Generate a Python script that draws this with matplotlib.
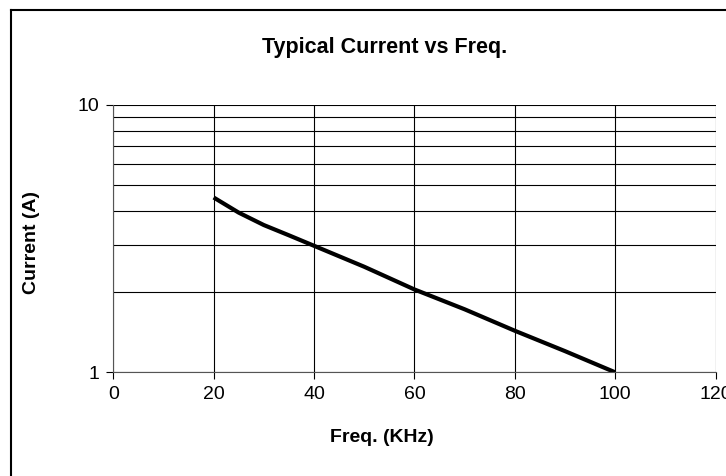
import matplotlib
matplotlib.use("Agg")
import matplotlib.pyplot as plt
from matplotlib.lines import Line2D
from matplotlib.ticker import FixedLocator, NullFormatter

# values
freq = [20, 25, 30, 35, 40, 50, 60, 70, 80, 90, 100]
current = [4.5, 3.95, 3.55, 3.25, 2.97, 2.48, 2.04, 1.72, 1.43, 1.2, 1.0]
xticks = [0, 20, 40, 60, 80, 100, 120]
yminor = [2, 3, 4, 5, 6, 7, 8, 9]

plt.rcParams['font.family'] = ['Liberation Sans', 'DejaVu Sans']

W, H = 726, 476
fig = plt.figure(figsize=(W/100, H/100), dpi=100)
ax = fig.add_axes([113.3/W, 1-372.3/H, (715.5-113.3)/W, (372.3-104.7)/H])

ax.plot(freq, current, color='black', lw=3.0, solid_capstyle='butt')
ax.set_yscale('log')
ax.set_xlim(0, 120)
ax.set_ylim(1, 10)
ax.set_xticks(xticks)
ax.set_yticks([1, 10])
ax.set_yticklabels(['1', '10'])
ax.yaxis.set_minor_locator(FixedLocator(yminor))
ax.yaxis.set_minor_formatter(NullFormatter())
ax.tick_params(axis='y', which='minor', length=0)
ax.tick_params(which='major', length=5, width=0.8, labelsize=14, pad=5)
ax.grid(True, which='both', color='black', lw=0.8)
for s in ['top', 'right']:
    ax.spines[s].set_visible(False)
ax.spines['left'].set_color('#555555')
ax.spines['bottom'].set_color('#555555')

# title and axis labels sit centred on the chart area, not the plot area
fig.text(385/W, 1-47/H, 'Typical Current vs Freq.', fontsize=15.5, fontweight='bold',
         ha='center', va='center')
fig.text(382/W, 1-438/H, 'Freq. (KHz)', fontsize=14, fontweight='bold',
         ha='center', va='center')
fig.text(32/W, 1-243/H, 'Current (A)', fontsize=14, fontweight='bold',
         ha='center', va='center', rotation=90)

# outer chart frame
fig.add_artist(Line2D([11/W, 11/W], [0, 1-10/H], color='black', lw=1.5))
fig.add_artist(Line2D([11/W, 1], [1-10/H, 1-10/H], color='black', lw=1.5))

fig.savefig('out.png', dpi=100)
